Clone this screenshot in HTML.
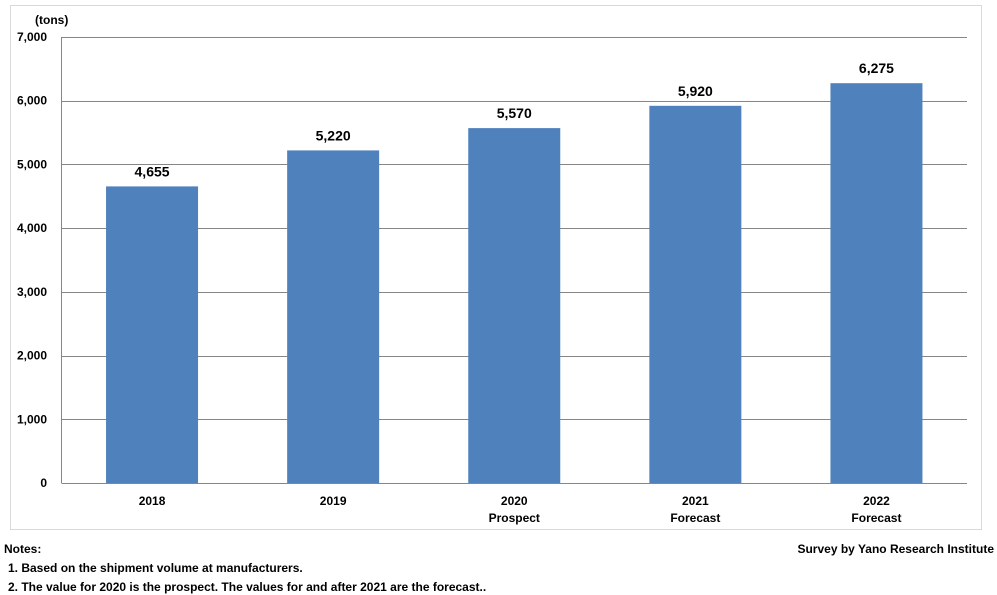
<!DOCTYPE html>
<html><head><meta charset="utf-8"><style>
body{margin:0;width:997px;height:595px;background:#fff;font-family:"Liberation Sans",sans-serif;font-weight:bold;color:#000;overflow:hidden;position:relative}
.t{position:absolute;font-size:12px;white-space:nowrap}
</style></head><body>
<svg width="997" height="595" style="position:absolute;left:0;top:0" font-family="Liberation Sans, sans-serif" font-weight="bold">
<rect x="10.5" y="5.5" width="971" height="524" fill="none" stroke="#d9d9d9"/>
<text x="35" y="24" font-size="12">(tons)</text>
<g id="grid"></g><g id="bars"></g>
</svg>
<div class="t" style="left:4px;top:542px">Notes:</div>
<div class="t" style="left:8px;top:561px">1. Based on the shipment volume at manufacturers.</div>
<div class="t" style="left:8px;top:580px">2. The value for 2020 is the prospect. The values for and after 2021 are the forecast..</div>
<div class="t" style="right:3px;top:542px">Survey by Yano Research Institute</div>
<script>
const categories=[["2018"],["2019"],["2020","Prospect"],["2021","Forecast"],["2022","Forecast"]];
const values=[4655,5220,5570,5920,6275];
const valueLabels=["4,655","5,220","5,570","5,920","6,275"];
const ticks=[0,1000,2000,3000,4000,5000,6000,7000];
const tickLabels=["0","1,000","2,000","3,000","4,000","5,000","6,000","7,000"];
const NS="http://www.w3.org/2000/svg";
const L=61.5,R=967,T=37,B=483,max=7000;
const y=v=>B-(v/max)*(B-T);
const bw=(R-L)/categories.length;
const x=i=>L+bw*(i+0.5);
const g=document.getElementById('grid'),b=document.getElementById('bars');
function mk(tag,at,p){const e=document.createElementNS(NS,tag);for(const k in at)e.setAttribute(k,at[k]);p.appendChild(e);return e;}
ticks.forEach((t,i)=>{
 const ln=mk('line',{x1:L,x2:R,y1:Math.round(y(t))+0.5,y2:Math.round(y(t))+0.5,stroke:'#868686'},g);
 
 
 const tx=mk('text',{x:47,y:y(t)+4,'font-size':12,'text-anchor':'end'},g);
 tx.textContent=tickLabels[i];
 
 
});
const ax=mk('line',{x1:L,x2:L,y1:T,y2:B,stroke:'#868686'},g);


values.forEach((v,i)=>{
 const w=92;
 const r=mk('rect',{x:x(i)-w/2,y:y(v),width:w,height:B-y(v),fill:'#4f81bd'},b);
 
 
 const lb=mk('text',{x:x(i),y:y(v)-10,'font-size':14,'text-anchor':'middle'},b);
 lb.textContent=valueLabels[i];
 
 
 categories[i].forEach((s,j)=>{
  const c=mk('text',{x:x(i),y:505+j*17,'font-size':12,'text-anchor':'middle'},b);
  c.textContent=s;
  
  
 });
});
</script>
</body></html>
